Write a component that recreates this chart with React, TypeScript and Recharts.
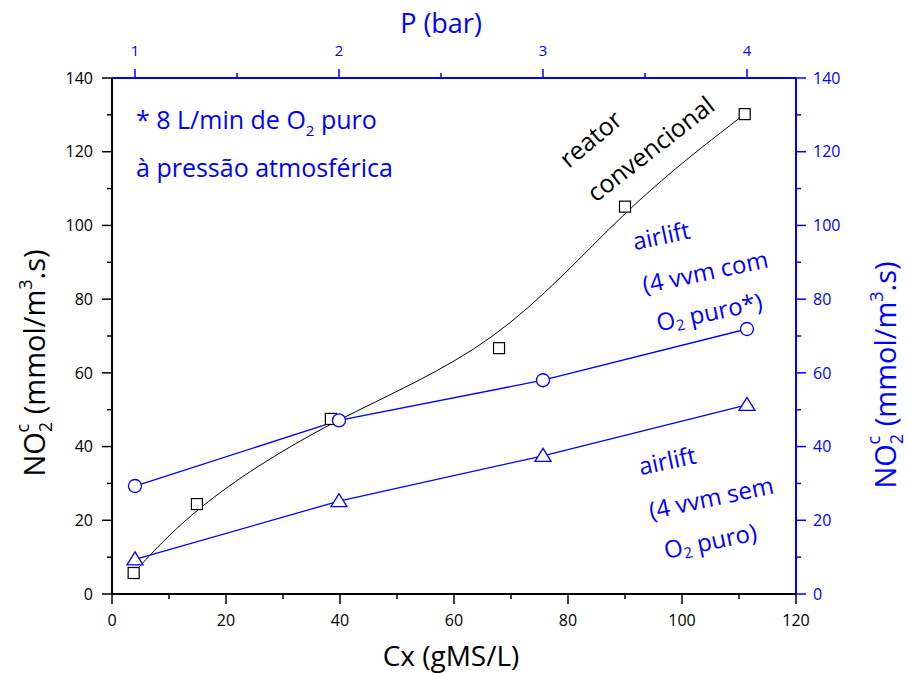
import { ComposedChart, Line, XAxis, YAxis } from 'recharts';

// reator convencional (squares), x = Cx (gMS/L)
const CX_REATOR = [3.8, 14.9, 38.4, 67.9, 90.0, 111.0];
const NO2_REATOR = [5.7, 24.4, 47.5, 66.7, 105.1, 130.2];

// airlift series, x = P (bar) on the top axis
const P_AIRLIFT = [1, 2, 3, 4];
const NO2_COM_O2 = [29.3, 47.1, 58.0, 71.9];
const NO2_SEM_O2 = [9.4, 25.2, 37.5, 51.3];

const CX_TICKS = [0, 20, 40, 60, 80, 100, 120];
const CX_MINOR = [10, 30, 50, 70, 90, 110];
const Y_TICKS = [0, 20, 40, 60, 80, 100, 120, 140];
const Y_MINOR = [10, 30, 50, 70, 90, 110, 130];
const P_TICKS = [1, 2, 3, 4];
const P_MINOR = [1.5, 2.5, 3.5];
const P_DOMAIN: [number, number] = [0.8873, 4.2403];

const BLUE = '#0000FF';
const FONT = '"Open Sans", sans-serif';
const TICK_FS = 16;

const reatorData = CX_REATOR.map((cx, i) => ({ cx, v: NO2_REATOR[i] }));
const comData = P_AIRLIFT.map((p, i) => ({ p, v: NO2_COM_O2[i] }));
const semData = P_AIRLIFT.map((p, i) => ({ p, v: NO2_SEM_O2[i] }));

const allTicks = (a: number[], b: number[]) => [...a, ...b].sort((m, n) => m - n);

const Square = (props: any) => (
  <rect key={`sq-${props.index}`} x={props.cx - 5.5} y={props.cy - 5.5} width={11} height={11}
    fill="#fff" stroke="#000" strokeWidth={1.2} />
);
const Circle = (props: any) => (
  <circle key={`ci-${props.index}`} cx={props.cx} cy={props.cy} r={6.5} fill="#fff" stroke={BLUE} strokeWidth={1.3} />
);
const Triangle = (props: any) => {
  const { cx, cy } = props;
  return (
    <polygon key={`tr-${props.index}`}
      points={`${cx},${cy - 7.5} ${cx - 8},${cy + 5.5} ${cx + 8},${cy + 5.5}`}
      fill="#fff" stroke={BLUE} strokeWidth={1.3} />
  );
};

// tick renderers: tickSize/tickMargin are 0, so x/y sit on the axis line
const BottomTick = ({ x, y, payload }: any) => {
  const major = CX_TICKS.includes(payload.value);
  return (
    <g>
      <line x1={x} x2={x} y1={y} y2={y + (major ? 10 : 5)} stroke="#000" strokeWidth={1.5} />
      {major && <text x={x} y={y + 32} textAnchor="middle" fontSize={TICK_FS} fill="#000" fontFamily={FONT}>{payload.value}</text>}
    </g>
  );
};
const TopTick = ({ x, y, payload }: any) => {
  const major = P_TICKS.includes(payload.value);
  return (
    <g>
      <line x1={x} x2={x} y1={y} y2={y - (major ? 9 : 5)} stroke={BLUE} strokeWidth={1.5} />
      {major && <text x={x} y={y - 22} textAnchor="middle" fontSize={15} fill={BLUE} fontFamily={FONT}>{payload.value}</text>}
    </g>
  );
};
const LeftTick = ({ x, y, payload }: any) => {
  const major = Y_TICKS.includes(payload.value);
  return (
    <g>
      <line x1={x} x2={x - (major ? 10 : 5)} y1={y} y2={y} stroke="#000" strokeWidth={1.5} />
      {major && <text x={x - 19} y={y} dy="0.36em" textAnchor="end" fontSize={TICK_FS} fill="#000" fontFamily={FONT}>{payload.value}</text>}
    </g>
  );
};
const RightTick = ({ x, y, payload }: any) => {
  const major = Y_TICKS.includes(payload.value);
  return (
    <g>
      <line x1={x} x2={x + (major ? 10 : 5)} y1={y} y2={y} stroke={BLUE} strokeWidth={1.5} />
      {major && <text x={x + 17} y={y} dy="0.36em" textAnchor="start" fontSize={TICK_FS} fill={BLUE} fontFamily={FONT}>{payload.value}</text>}
    </g>
  );
};

function YTitle({ x, y, color }: { x: number; y: number; color: string }) {
  return (
    <text transform={`translate(${x},${y}) rotate(-90)`} textAnchor="middle" fontSize={29} fill={color} fontFamily={FONT}>
      NO<tspan dy={7} fontSize={18}>2</tspan>
      <tspan dx={-10.5} dy={-23} fontSize={18}>c</tspan>
      <tspan dx={2} dy={16}> (mmol/m</tspan>
      <tspan dy={-13} fontSize={18}>3</tspan>
      <tspan dy={13}>.s)</tspan>
    </text>
  );
}

export default function App() {
  return (
    <div style={{ position: 'absolute', left: 0, top: 0, width: 909, height: 673, background: '#fff' }}>
      <ComposedChart width={909} height={673} margin={{ top: 48, right: 53, bottom: 49, left: 52 }}>
        <XAxis xAxisId="bottom" dataKey="cx" type="number" domain={[0, 120]} ticks={allTicks(CX_TICKS, CX_MINOR)}
          interval={0} height={30} axisLine={{ stroke: '#000', strokeWidth: 2 }} tickLine={false}
          tickSize={0} tickMargin={0} tick={BottomTick} allowDataOverflow />
        <XAxis xAxisId="top" orientation="top" dataKey="p" type="number" domain={P_DOMAIN}
          ticks={allTicks(P_TICKS, P_MINOR)} interval={0} height={30}
          axisLine={{ stroke: BLUE, strokeWidth: 2 }} tickLine={false}
          tickSize={0} tickMargin={0} tick={TopTick} allowDataOverflow />
        <YAxis yAxisId="left" type="number" domain={[0, 140]} ticks={allTicks(Y_TICKS, Y_MINOR)} interval={0}
          width={60} axisLine={{ stroke: '#000', strokeWidth: 2 }} tickLine={false}
          tickSize={0} tickMargin={0} tick={LeftTick} allowDataOverflow />
        <YAxis yAxisId="right" orientation="right" type="number" domain={[0, 140]} ticks={allTicks(Y_TICKS, Y_MINOR)}
          interval={0} width={60} axisLine={{ stroke: BLUE, strokeWidth: 2 }} tickLine={false}
          tickSize={0} tickMargin={0} tick={RightTick} allowDataOverflow />

        <Line data={reatorData} xAxisId="bottom" yAxisId="left" dataKey="v" type="basis"
          stroke="#000" strokeWidth={1} dot={Square} isAnimationActive={false} />
        <Line data={comData} xAxisId="top" yAxisId="left" dataKey="v" type="linear"
          stroke={BLUE} strokeWidth={1.3} dot={Circle} isAnimationActive={false} />
        <Line data={semData} xAxisId="top" yAxisId="left" dataKey="v" type="linear"
          stroke={BLUE} strokeWidth={1.3} dot={Triangle} isAnimationActive={false} />
      </ComposedChart>

      <svg width={909} height={673} style={{ position: 'absolute', left: 0, top: 0, pointerEvents: 'none' }}
        fontFamily={FONT}>
        <text x={441} y={33} textAnchor="middle" fontSize={27} fill={BLUE}>P (bar)</text>
        <text x={451} y={666} textAnchor="middle" fontSize={28} fill="#000">Cx (gMS/L)</text>
        <YTitle x={45} y={363} color="#000" />
        <YTitle x={896} y={375} color={BLUE} />

        <text x={136} y={129} fontSize={25} fill={BLUE}>
          * 8 L/min de O<tspan dy={7} fontSize={15}>2</tspan><tspan dy={-7}> puro</tspan>
        </text>
        <text x={136} y={177} fontSize={25} fill={BLUE}>à pressão atmosférica</text>

        <g fontSize={25} fill="#000" textAnchor="middle" dominantBaseline="central">
          <text transform="translate(590,138) rotate(-40)">reator</text>
          <text transform="translate(650,148) rotate(-38)">convencional</text>
        </g>
        <g fontSize={24} fill={BLUE} textAnchor="middle" dominantBaseline="central">
          <text transform="translate(661,235) rotate(-12)">airlift</text>
          <text transform="translate(705,271) rotate(-12)">(4 vvm com</text>
          <text transform="translate(709,311) rotate(-12)">
            O<tspan dy={7} fontSize={15}>2</tspan><tspan dy={-7}> puro*)</tspan>
          </text>
          <text transform="translate(667,460) rotate(-12)">airlift</text>
          <text transform="translate(711,497) rotate(-12)">(4 vvm sem</text>
          <text transform="translate(710,540) rotate(-12)">
            O<tspan dy={7} fontSize={15}>2</tspan><tspan dy={-7}> puro)</tspan>
          </text>
        </g>
      </svg>
    </div>
  );
}
